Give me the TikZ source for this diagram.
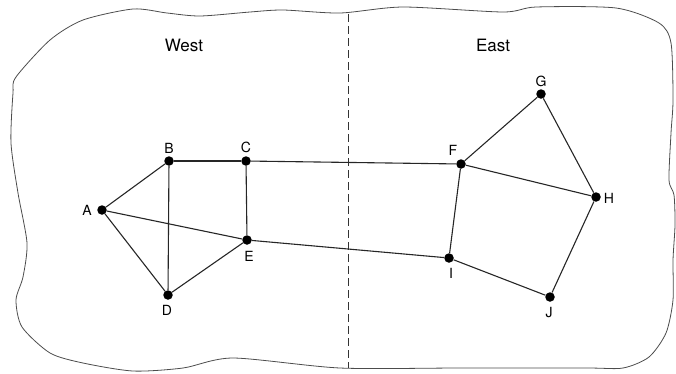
\documentclass[tikz,border=0pt]{standalone}
\usepackage{fontspec}
\setmainfont{TeX Gyre Heros}
\begin{document}
\begin{tikzpicture}[x=1pt,y=-1pt,
  vert/.style={circle,fill=black,inner sep=0pt,minimum size=9.5pt},
  lab/.style={font=\fontsize{14}{16}\selectfont,inner sep=0pt},
  region/.style={font=\fontsize{17}{20}\selectfont,inner sep=0pt},
  edge/.style={line width=1.1pt,black!85},
  blob/.style={line width=0.8pt,black!70}]
\useasboundingbox (0,0) rectangle (676,373);
\draw[blob] plot[smooth cycle,tension=0.45] coordinates {
 (16,77) (50,40) (83,20) (133,9) (167,13) (200,16) (250,12) (283,10) (340,13)
 (403,7) (503,12) (536,7) (616,8) (659,23) (671,43) (673,100) (671,133)
 (669,180) (674,195) (675,225) (673,260) (673,300) (666,333) (649,357)
 (623,368) (586,368) (460,368) (340,368)
 (233,358) (183,368) (133,371) (83,363) (50,353) (22,327) (16,300) (23,277)
 (27,243) (18,193) (11,143) (13,93)};
\coordinate (dtop) at (348,14);
\coordinate (dbot) at (348,368);
\draw[line width=0.9pt,black!80,dash pattern=on 8pt off 4pt] (dtop) -- (dbot);
\node[region] (west) at (184,45) {West};
\node[region] (east) at (493,45) {East};
\node[vert] (A) at (102,210) {};
\node[vert] (B) at (169,161) {};
\node[vert] (C) at (246,161) {};
\node[vert] (D) at (168,295) {};
\node[vert] (E) at (247,240) {};
\node[vert] (F) at (461,164) {};
\node[vert] (G) at (541,94) {};
\node[vert] (H) at (596,197) {};
\node[vert] (I) at (449,258) {};
\node[vert] (J) at (550,297) {};
\foreach \a/\b in {A/B,A/D,A/E,B/C,B/D,C/E,D/E,C/F,E/I,F/G,F/H,F/I,G/H,H/J,I/J}
  \draw[edge] (\a) -- (\b);
\node[lab] (lA) at (87,210) {A};
\node[lab] (lB) at (169,148) {B};
\node[lab] (lC) at (246,147) {C};
\node[lab] (lD) at (167,310) {D};
\node[lab] (lE) at (249,256) {E};
\node[lab] (lF) at (453,150) {F};
\node[lab] (lG) at (541,81) {G};
\node[lab] (lH) at (609,198) {H};
\node[lab] (lI) at (451,273) {I};
\node[lab] (lJ) at (549,313) {J};
\end{tikzpicture}
\end{document}
